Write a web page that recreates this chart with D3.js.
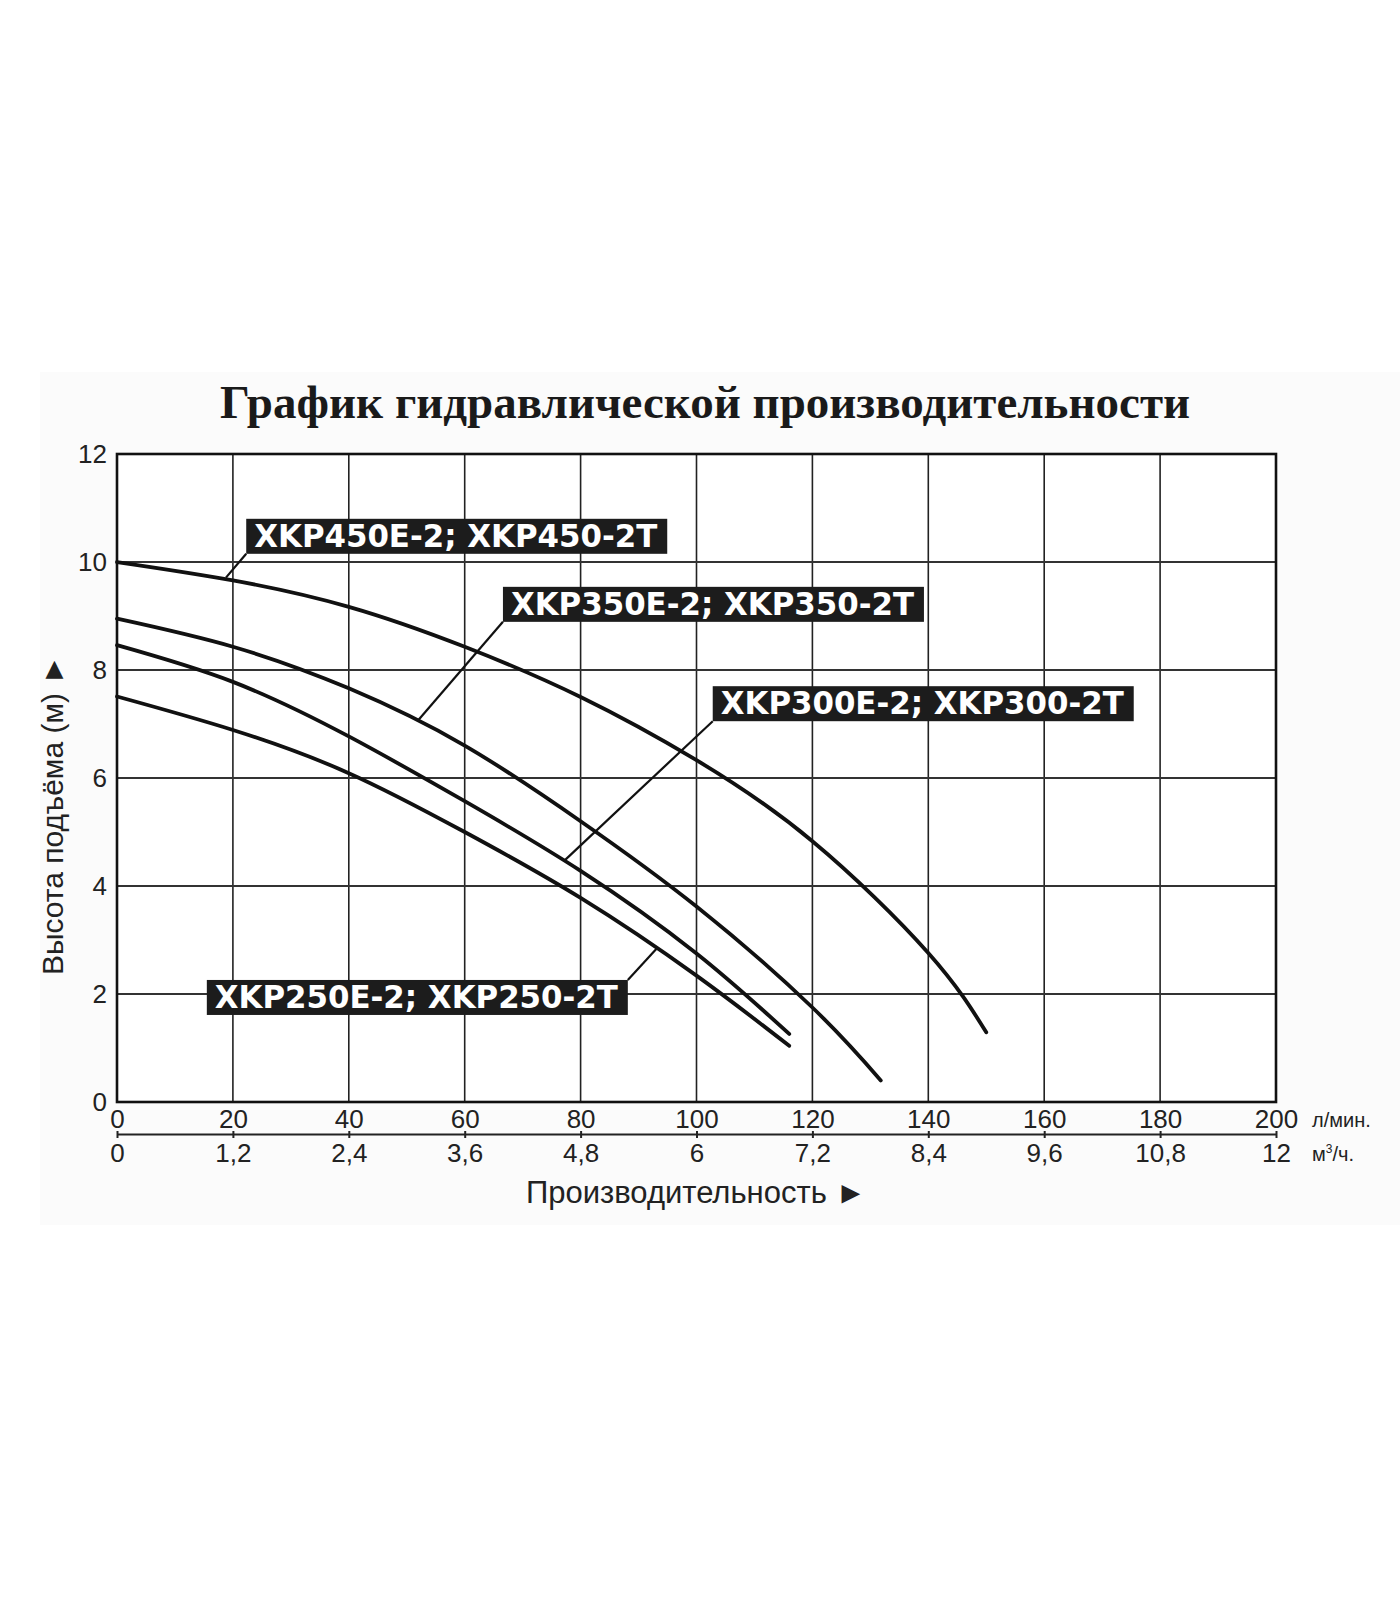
<!DOCTYPE html>
<html>
<head>
<meta charset="utf-8">
<script src="https://cdn.jsdelivr.net/npm/d3@7"></script>
<style>
  body { margin: 0; background: #fff; }
  svg text { font-family: "Liberation Sans", Arial, sans-serif; }
  .tag { font-family: "DejaVu Sans Condensed", "DejaVu Sans", sans-serif; font-stretch: condensed; font-weight: bold; }
</style>
</head>
<body>
<div id="chart"></div>
<script>
// datos (caudal l/min, altura m)
const flowTicks = [0, 20, 40, 60, 80, 100, 120, 140, 160, 180, 200]
const m3Ticks = [0, 1.2, 2.4, 3.6, 4.8, 6, 7.2, 8.4, 9.6, 10.8, 12]
const headTicks = [0, 2, 4, 6, 8, 10, 12]

const xkp450 = [[0, 10.0], [20, 9.66], [40, 9.17], [60, 8.43], [80, 7.5], [100, 6.33], [120, 4.83], [140, 2.76], [150, 1.29]]
const xkp350 = [[0, 8.95], [20, 8.43], [40, 7.66], [60, 6.6], [80, 5.2], [100, 3.62], [120, 1.75], [131.8, 0.4]]
const xkp300 = [[0, 8.46], [20, 7.78], [40, 6.77], [60, 5.57], [80, 4.28], [100, 2.75], [116, 1.26]]
const xkp250 = [[0, 7.51], [20, 6.89], [40, 6.09], [60, 5.0], [80, 3.78], [100, 2.34], [116, 1.04]]

const labelNames = ["XKP450E-2; XKP450-2T", "XKP350E-2; XKP350-2T", "XKP300E-2; XKP300-2T", "XKP250E-2; XKP250-2T"]
// punto de la curva al que apunta cada etiqueta
const labelTargets = [[18.8, 9.71], [51.9, 7.06], [77.2, 4.47], [93.1, 2.84]]

// ----------------------------------------------------------
const width = 1400
const height = 1600
const margin = { top: 454, bottom: 498, left: 117, right: 124 }

// esquina sup. izquierda de cada caja (en unidades del grafico) y lado de salida de la flecha
const labelBoxes = [
  { q: 22.3, h: 10.8, from: "bl" },
  { q: 66.6, h: 9.54, from: "bl" },
  { q: 102.8, h: 7.7, from: "bl" },
  { q: 15.5, h: 2.26, from: "tr" }
]
const boxW = 421
const boxH = 35

const svg = d3.select("#chart").append("svg").attr("width", width).attr("height", height)

svg.append("rect")
  .attr("x", 40).attr("y", 372).attr("width", 1360).attr("height", 853)
  .attr("fill", "#fbfbfb")

const x = d3.scaleLinear().domain([0, 200]).range([margin.left, width - margin.right])
const xm3 = d3.scaleLinear().domain([0, 12]).range(x.range())
const y = d3.scaleLinear().domain([0, 12]).range([height - margin.bottom, margin.top])

svg.append("rect")
  .attr("x", x(0)).attr("y", y(12))
  .attr("width", x(200) - x(0)).attr("height", y(0) - y(12))
  .attr("fill", "#fff")

// titulo
svg.append("text")
  .attr("x", 705).attr("y", 418)
  .attr("text-anchor", "middle")
  .style("font-family", "'Liberation Serif', 'Times New Roman', serif")
  .style("font-weight", "bold")
  .style("font-size", "47px")
  .attr("fill", "#1a1a1a")
  .text("График гидравлической производительности")

// rejilla
const grid = svg.append("g")
grid.selectAll(".vl").data(flowTicks).join("line")
  .attr("x1", d => x(d)).attr("x2", d => x(d))
  .attr("y1", y(12)).attr("y2", y(0))
  .attr("stroke", "#222").attr("stroke-width", 1.6)
grid.selectAll(".hl").data(headTicks).join("line")
  .attr("x1", x(0)).attr("x2", x(200))
  .attr("y1", d => y(d)).attr("y2", d => y(d))
  .attr("stroke", "#333").attr("stroke-width", 2.2)
svg.append("rect")
  .attr("x", x(0)).attr("y", y(12))
  .attr("width", x(200) - x(0)).attr("height", y(0) - y(12))
  .attr("fill", "none").attr("stroke", "#111").attr("stroke-width", 2.6)

// ejes
const yAxis = d3.axisLeft(y).tickValues(headTicks).tickSize(0).tickPadding(10)
const yAxisGroup = svg.append("g").attr("transform", `translate(${x(0)},0)`).call(yAxis)
yAxisGroup.select(".domain").remove()
yAxisGroup.selectAll("text").style("font-size", "26px").attr("fill", "#222")

const xAxis = d3.axisBottom(x).tickValues(flowTicks).tickSize(0)
const xAxisGroup = svg.append("g").attr("transform", `translate(0,${y(0)})`).call(xAxis)
xAxisGroup.select(".domain").remove()
xAxisGroup.selectAll("text").attr("y", 26).attr("dy", 0).style("font-size", "26px").attr("fill", "#222")

const fmt = d => String(+d.toFixed(1)).replace(".", ",")
const m3Axis = d3.axisBottom(xm3).tickValues(m3Ticks).tickFormat(fmt).tickSizeInner(4).tickSizeOuter(0)
const m3Group = svg.append("g").attr("transform", `translate(0,${y(0) + 32})`).call(m3Axis)
m3Group.select(".domain").attr("stroke", "#222").attr("stroke-width", 2)
m3Group.selectAll("line").attr("stroke", "#222").attr("stroke-width", 2).attr("y1", -3)
m3Group.selectAll("text").attr("y", 28).attr("dy", 0).style("font-size", "26px").attr("fill", "#222")

svg.append("text").attr("x", 1312).attr("y", 1127)
  .style("font-size", "20px").attr("fill", "#222").text("л/мин.")
svg.append("text").attr("x", 1312).attr("y", 1161)
  .style("font-size", "20px").attr("fill", "#222")
  .html("м<tspan dy='-8' style='font-size:12px'>3</tspan><tspan dy='8'>/ч.</tspan>")

svg.append("text")
  .attr("x", 696).attr("y", 1203)
  .attr("text-anchor", "middle")
  .style("font-size", "31px").attr("fill", "#222")
  .text("Производительность ►")

svg.append("text")
  .attr("transform", `translate(63,815) rotate(-90)`)
  .attr("text-anchor", "middle")
  .style("font-size", "30px").attr("fill", "#222")
  .text("Высота подъёма (м) ►")

// curvas
const line = d3.line()
  .x(d => x(d[0]))
  .y(d => y(d[1]))
  .curve(d3.curveNatural)

const curves = [xkp450, xkp350, xkp300, xkp250]
svg.append("g").selectAll("path").data(curves).join("path")
  .attr("d", line)
  .attr("fill", "none")
  .attr("stroke", "#111")
  .attr("stroke-width", 3.8)
  .attr("stroke-linecap", "round")

// etiquetas
const tags = svg.append("g").selectAll("g").data(labelNames).join("g")
tags.append("line")
  .attr("x1", (d, i) => x(labelBoxes[i].q) + (labelBoxes[i].from === "tr" ? boxW : 0))
  .attr("y1", (d, i) => y(labelBoxes[i].h) + (labelBoxes[i].from === "tr" ? 0 : boxH))
  .attr("x2", (d, i) => x(labelTargets[i][0]))
  .attr("y2", (d, i) => y(labelTargets[i][1]))
  .attr("stroke", "#111").attr("stroke-width", 2.2)
tags.append("rect")
  .attr("x", (d, i) => x(labelBoxes[i].q))
  .attr("y", (d, i) => y(labelBoxes[i].h))
  .attr("width", boxW).attr("height", boxH)
  .attr("fill", "#1c1c1c")
tags.append("text")
  .attr("class", "tag")
  .attr("x", (d, i) => x(labelBoxes[i].q) + 8)
  .attr("y", (d, i) => y(labelBoxes[i].h) + 28)
  .attr("textLength", boxW - 18)
  .attr("lengthAdjust", "spacingAndGlyphs")
  .style("font-size", "32px")
  .attr("fill", "#fff")
  .text(d => d)
</script>
</body>
</html>
